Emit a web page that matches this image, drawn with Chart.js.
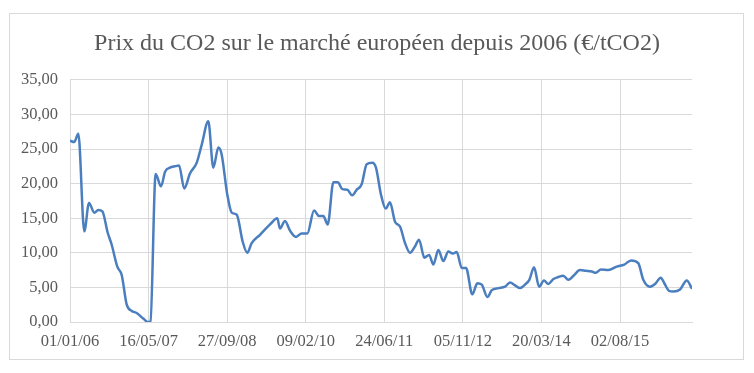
<!DOCTYPE html>
<html>
<head>
<meta charset="utf-8">
<script src="https://cdn.jsdelivr.net/npm/chart.js@4/dist/chart.umd.min.js"></script>
<style>
  html, body { margin: 0; padding: 0; background: #ffffff; }
  canvas { display: block; }
</style>
</head>
<body>
<canvas id="c" width="754" height="373"></canvas>
<script>
// Days elapsed since 01/01/2006
const days = [0, 27, 53, 91, 121, 155, 180, 206, 240, 265, 301, 329, 361, 393, 424, 466, 498, 512,
  545, 579, 605, 636, 668, 694, 727, 764, 806, 838, 880, 912, 944, 965, 1001, 1029, 1061, 1099,
  1128, 1156, 1209, 1273, 1319, 1336, 1368, 1400, 1438, 1474, 1510, 1553, 1585, 1612, 1640, 1676,
  1704, 1733, 1765, 1796, 1824, 1856, 1888, 1924, 1947, 1979, 2009, 2036, 2068, 2100, 2132, 2164,
  2195, 2221, 2255, 2285, 2312, 2344, 2376, 2407, 2435, 2461, 2493, 2520, 2560, 2592, 2620, 2656,
  2684, 2726, 2768, 2800, 2832, 2864, 2895, 2923, 2953, 2985, 3016, 3044, 3076, 3107, 3139, 3171,
  3209, 3245, 3282, 3320, 3345, 3379, 3426, 3479, 3527, 3570, 3616, 3648, 3691, 3723, 3759, 3782,
  3812, 3840, 3882, 3925, 3958];
// CO2 price in €/tCO2
const prices = [26.2, 26.0, 27.2, 13.1, 17.2, 15.8, 16.2, 16.0, 12.9, 11.2, 8.0, 6.8, 2.5, 1.6, 1.3, 0.5, 0.0, 0.1,
  21.4, 19.6, 21.7, 22.3, 22.5, 22.6, 19.3, 21.5, 23.0, 25.6, 29.0, 22.3, 25.2, 24.2, 18.4, 15.8, 15.5, 11.6,
  10.0, 11.4, 12.6, 14.1, 15.0, 13.5, 14.6, 13.2, 12.3, 12.8, 12.8, 16.1, 15.3, 15.3, 14.1, 20.2,
  20.2, 19.2, 19.1, 18.3, 19.1, 19.9, 22.8, 23.0, 22.3, 18.4, 16.4, 17.3, 14.5, 13.8, 11.4, 10.0,
  10.9, 11.9, 9.3, 9.7, 8.3, 10.4, 8.8, 10.2, 9.9, 10.1, 7.8, 7.8, 4.0, 5.6, 5.4, 3.6,
  4.6, 4.9, 5.1, 5.7, 5.3, 4.9, 5.4, 6.1, 7.9, 5.1, 6.0, 5.5, 6.2, 6.5, 6.7, 6.1,
  6.8, 7.5, 7.4, 7.3, 7.1, 7.6, 7.5, 8.0, 8.3, 8.9, 8.5, 6.1, 5.1, 5.5, 6.4, 5.6,
  4.5, 4.4, 4.7, 6.0, 4.8];
// Axis settings: x ticks (days since 01/01/2006), y range
const xTickDays = [0, 500, 1000, 1500, 2000, 2500, 3000, 3500];
const xMaxDays = 3958;
const yTicksMax = 35;
const yTickStep = 5;
const titleText = 'Prix du CO2 sur le marché européen depuis 2006 (€/tCO2)';

const startUTC = Date.UTC(2006, 0, 1);
function fmtDate(d) {
  const dt = new Date(startUTC + d * 86400000);
  const dd = String(dt.getUTCDate()).padStart(2, '0');
  const mm = String(dt.getUTCMonth() + 1).padStart(2, '0');
  const yy = String(dt.getUTCFullYear() % 100).padStart(2, '0');
  return dd + '/' + mm + '/' + yy;
}

const points = days.map((d, i) => ({ x: d, y: prices[i] }));

const framePlugin = {
  id: 'frame',
  beforeDraw(chart) {
    const ctx = chart.ctx;
    ctx.save();
    ctx.fillStyle = '#ffffff';
    ctx.fillRect(0, 0, chart.width, chart.height);
    ctx.strokeStyle = '#d9d9d9';
    ctx.lineWidth = 1;
    ctx.strokeRect(9.5, 13.5, 734, 346);
    ctx.restore();
  }
};

const textColor = '#595959';
const gridColor = '#d9d9d9';

new Chart(document.getElementById('c'), {
  type: 'line',
  data: {
    datasets: [{
      data: points,
      yAxisID: 'y',
      borderColor: '#4a7ebf',
      borderWidth: 2.5,
      pointRadius: 0,
      fill: false,
      cubicInterpolationMode: 'monotone'
    }]
  },
  options: {
    responsive: false,
    animation: false,
    layout: { padding: 0 },
    plugins: {
      legend: { display: false },
      tooltip: { enabled: false },
      title: {
        display: true,
        text: titleText,
        color: textColor,
        font: { family: 'Liberation Serif', size: 24, weight: 'normal' },
        padding: { top: 29, bottom: 22 }
      }
    },
    scales: {
      x: {
        type: 'linear',
        min: 0,
        max: xMaxDays,
        grid: { color: gridColor, drawTicks: false, lineWidth: 1 },
        border: { color: gridColor },
        afterBuildTicks: (s) => { s.ticks = xTickDays.map(v => ({ value: v })); },
        ticks: {
          autoSkip: false,
          maxRotation: 0,
          padding: 10,
          color: textColor,
          font: { family: 'Liberation Serif', size: 16.5 },
          callback: (v) => fmtDate(v)
        },
        afterFit: (s) => { s.height = 51; }
      },
      y: {
        position: 'left',
        min: 0,
        max: yTicksMax,
        grid: { color: gridColor, drawTicks: false, lineWidth: 1 },
        border: { display: false },
        ticks: {
          stepSize: yTickStep,
          padding: 12,
          color: textColor,
          font: { family: 'Liberation Serif', size: 16.5 },
          callback: (v) => v.toFixed(2).replace('.', ',')
        },
        afterFit: (s) => { s.width = 70; }
      },
      yRight: {
        position: 'right',
        min: 0,
        max: yTicksMax,
        grid: { display: false, drawTicks: false },
        border: { display: false },
        ticks: { display: false },
        afterFit: (s) => { s.width = 62; }
      }
    }
  },
  plugins: [framePlugin]
});
</script>
</body>
</html>
